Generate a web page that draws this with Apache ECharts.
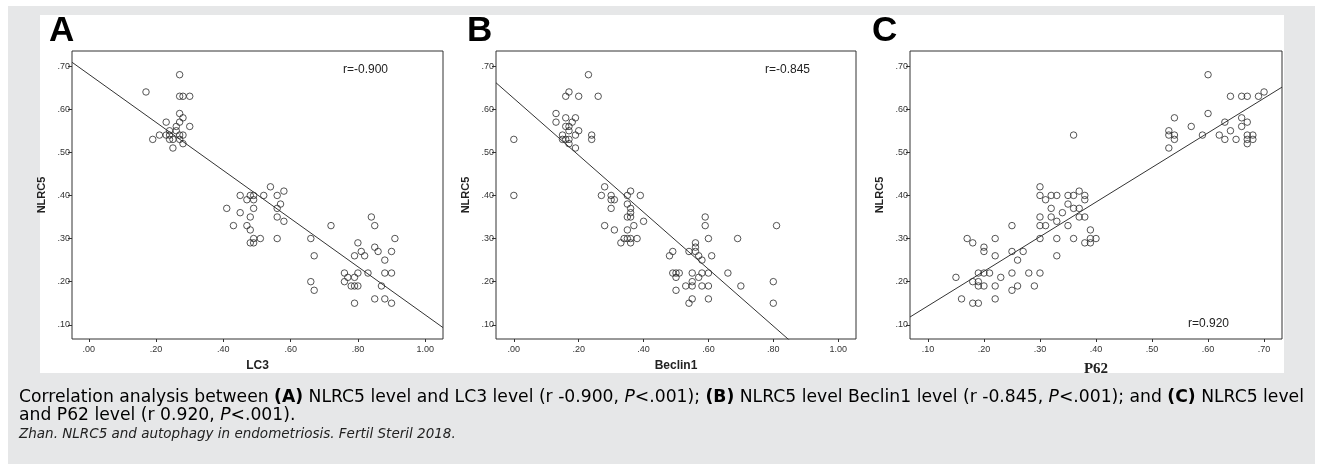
<!DOCTYPE html>
<html>
<head>
<meta charset="utf-8">
<script src="https://cdn.jsdelivr.net/npm/echarts@6/dist/echarts.min.js"></script>
<style>
  html, body { margin: 0; padding: 0; background: #fff; }
  #chart { width: 1320px; height: 464px; }
</style>
</head>
<body>
<div id="chart"></div>
<script>
// NLRC5 vs LC3 (panel A)
const lc3Points = [
  [0.17, 0.64], [0.27, 0.68], [0.27, 0.63], [0.28, 0.63], [0.30, 0.63], [0.27, 0.59], [0.28, 0.58],
  [0.27, 0.57], [0.23, 0.57], [0.30, 0.56], [0.26, 0.56], [0.24, 0.55], [0.26, 0.55], [0.23, 0.54],
  [0.24, 0.54], [0.27, 0.54], [0.28, 0.54], [0.21, 0.54], [0.19, 0.53], [0.24, 0.53], [0.25, 0.53],
  [0.27, 0.53], [0.25, 0.51], [0.28, 0.52],
  [0.54, 0.42], [0.45, 0.40], [0.48, 0.40], [0.49, 0.40], [0.52, 0.40], [0.56, 0.40], [0.58, 0.41],
  [0.47, 0.39], [0.49, 0.39], [0.41, 0.37], [0.49, 0.37], [0.57, 0.38], [0.56, 0.37], [0.45, 0.36],
  [0.48, 0.35], [0.56, 0.35], [0.58, 0.34], [0.43, 0.33], [0.47, 0.33], [0.48, 0.32], [0.49, 0.30],
  [0.51, 0.30], [0.56, 0.30], [0.48, 0.29], [0.49, 0.29], [0.66, 0.30], [0.72, 0.33], [0.67, 0.26],
  [0.66, 0.20], [0.67, 0.18],
  [0.84, 0.35], [0.85, 0.33], [0.91, 0.30], [0.80, 0.29], [0.85, 0.28], [0.86, 0.27], [0.81, 0.27],
  [0.90, 0.27], [0.79, 0.26], [0.82, 0.26], [0.88, 0.25], [0.76, 0.22], [0.80, 0.22], [0.83, 0.22],
  [0.88, 0.22], [0.90, 0.22], [0.77, 0.21], [0.79, 0.21], [0.76, 0.20], [0.78, 0.19], [0.79, 0.19],
  [0.80, 0.19], [0.87, 0.19], [0.85, 0.16], [0.88, 0.16], [0.79, 0.15], [0.90, 0.15]
];

// NLRC5 vs Beclin1 (panel B)
const beclinPoints = [
  [0.00, 0.53], [0.00, 0.40], [0.23, 0.68], [0.17, 0.64], [0.16, 0.63], [0.20, 0.63], [0.26, 0.63],
  [0.13, 0.59], [0.13, 0.57], [0.16, 0.58], [0.19, 0.58], [0.18, 0.57], [0.16, 0.56], [0.17, 0.56],
  [0.20, 0.55], [0.17, 0.55], [0.15, 0.54], [0.19, 0.54], [0.15, 0.53], [0.16, 0.53], [0.17, 0.53],
  [0.24, 0.54], [0.24, 0.53], [0.17, 0.52], [0.19, 0.51],
  [0.28, 0.42], [0.27, 0.40], [0.30, 0.40], [0.30, 0.39], [0.31, 0.39], [0.30, 0.37], [0.36, 0.41],
  [0.35, 0.40], [0.39, 0.40], [0.35, 0.38], [0.36, 0.37], [0.36, 0.36], [0.35, 0.35], [0.36, 0.35],
  [0.40, 0.34], [0.28, 0.33], [0.37, 0.33], [0.31, 0.32], [0.35, 0.32], [0.34, 0.30], [0.35, 0.30],
  [0.36, 0.30], [0.38, 0.30], [0.33, 0.29], [0.36, 0.29],
  [0.59, 0.35], [0.59, 0.33], [0.81, 0.33], [0.60, 0.30], [0.69, 0.30], [0.56, 0.29], [0.56, 0.28],
  [0.56, 0.27], [0.54, 0.27], [0.49, 0.27], [0.48, 0.26], [0.57, 0.26], [0.61, 0.26], [0.58, 0.25],
  [0.49, 0.22], [0.50, 0.22], [0.51, 0.22], [0.55, 0.22], [0.58, 0.22], [0.60, 0.22], [0.66, 0.22],
  [0.50, 0.21], [0.57, 0.21], [0.55, 0.20], [0.80, 0.20], [0.53, 0.19], [0.55, 0.19], [0.58, 0.19],
  [0.60, 0.19], [0.70, 0.19], [0.50, 0.18], [0.55, 0.16], [0.60, 0.16], [0.54, 0.15], [0.80, 0.15]
];

// NLRC5 vs P62 (panel C)
const p62Points = [
  [0.60, 0.68], [0.64, 0.63], [0.66, 0.63], [0.67, 0.63], [0.69, 0.63], [0.70, 0.64], [0.60, 0.59],
  [0.54, 0.58], [0.66, 0.58], [0.63, 0.57], [0.67, 0.57], [0.57, 0.56], [0.66, 0.56], [0.53, 0.55],
  [0.64, 0.55], [0.53, 0.54], [0.54, 0.54], [0.59, 0.54], [0.62, 0.54], [0.67, 0.54], [0.68, 0.54],
  [0.54, 0.53], [0.63, 0.53], [0.65, 0.53], [0.67, 0.53], [0.68, 0.53], [0.67, 0.52], [0.53, 0.51],
  [0.36, 0.54],
  [0.30, 0.42], [0.30, 0.40], [0.31, 0.39], [0.32, 0.40], [0.33, 0.40], [0.35, 0.40], [0.36, 0.40],
  [0.37, 0.41], [0.38, 0.40], [0.38, 0.39], [0.32, 0.37], [0.36, 0.37], [0.37, 0.37], [0.35, 0.38],
  [0.34, 0.36], [0.30, 0.35], [0.32, 0.35], [0.37, 0.35], [0.38, 0.35], [0.33, 0.34], [0.30, 0.33],
  [0.31, 0.33], [0.35, 0.33], [0.25, 0.33], [0.39, 0.32], [0.30, 0.30], [0.33, 0.30], [0.36, 0.30],
  [0.39, 0.30], [0.40, 0.30], [0.38, 0.29], [0.39, 0.29],
  [0.17, 0.30], [0.18, 0.29], [0.22, 0.30], [0.20, 0.28], [0.20, 0.27], [0.25, 0.27], [0.27, 0.27],
  [0.22, 0.26], [0.33, 0.26], [0.26, 0.25], [0.19, 0.22], [0.20, 0.22], [0.21, 0.22], [0.25, 0.22],
  [0.28, 0.22], [0.30, 0.22], [0.15, 0.21], [0.23, 0.21], [0.18, 0.20], [0.19, 0.20], [0.19, 0.19],
  [0.20, 0.19], [0.22, 0.19], [0.26, 0.19], [0.29, 0.19], [0.25, 0.18], [0.16, 0.16], [0.22, 0.16],
  [0.18, 0.15], [0.19, 0.15]
];

// fitted lines: [intercept, slope]
const lc3Fit = [0.681, -0.558];
const beclinFit = [0.625, -0.660];
const p62Fit = [0.0634, 0.803];

const ticksA = [0, 0.2, 0.4, 0.6, 0.8, 1.0];
const ticksC = [0.1, 0.2, 0.3, 0.4, 0.5, 0.6, 0.7];
const ticksY = [0.1, 0.2, 0.3, 0.4, 0.5, 0.6, 0.7];

const rLabels = ['r=-0.900', 'r=-0.845', 'r=0.920'];

const panels = [
  { letter: 'A', xName: 'LC3', pts: lc3Points, fit: lc3Fit, xMin: -0.05, xMax: 1.053, ticks: ticksA,
    grid: { left: 72, top: 51, width: 371, height: 288 }, r: [343, 64], lx: 49 },
  { letter: 'B', xName: 'Beclin1', pts: beclinPoints, fit: beclinFit, xMin: -0.055, xMax: 1.055, ticks: ticksA,
    grid: { left: 496, top: 51, width: 360, height: 288 }, r: [765, 64], lx: 467 },
  { letter: 'C', xName: 'P62', pts: p62Points, fit: p62Fit, xMin: 0.068, xMax: 0.732, ticks: ticksC,
    grid: { left: 910, top: 51, width: 372, height: 288 }, r: [1188, 318], lx: 872, serif: true }
];
const yMin = 0.067, yMax = 0.735;

const fmt = v => v.toFixed(2).replace(/^0\./, '.');
const font = 'Arial, "Liberation Sans", sans-serif';

const chart = echarts.init(document.getElementById('chart'));

const grids = [], xAxes = [], yAxes = [], series = [];
const graphic = [
  { type: 'rect', shape: { x: 8, y: 6, width: 1307, height: 470 }, style: { fill: '#e6e7e8' }, z: -10 },
  { type: 'rect', shape: { x: 40, y: 15, width: 1244, height: 358 }, style: { fill: '#fff' }, z: -9 }
];

panels.forEach((p, i) => {
  grids.push(Object.assign({ show: true, borderColor: '#333', borderWidth: 1, backgroundColor: '#fff' }, p.grid));
  xAxes.push({
    gridIndex: i, type: 'value', min: p.xMin, max: p.xMax,
    name: p.xName, nameLocation: 'middle', nameGap: p.serif ? 23 : 21,
    nameTextStyle: p.serif
      ? { fontFamily: '"Liberation Serif", "Times New Roman", serif', fontWeight: 'bold', fontSize: 15, color: '#222' }
      : { fontFamily: font, fontWeight: 'bold', fontSize: 12, color: '#222' },
    splitLine: { show: false },
    axisLine: { show: false, onZero: false },
    axisTick: { show: true, inside: false, length: 3, lineStyle: { color: '#333' }, customValues: p.ticks },
    axisLabel: { customValues: p.ticks, formatter: fmt, fontSize: 9, color: '#333', fontFamily: font, margin: 6 }
  });
  yAxes.push({
    gridIndex: i, type: 'value', min: yMin, max: yMax,
    name: 'NLRC5', nameLocation: 'middle', nameGap: 25,
    nameTextStyle: { fontFamily: font, fontWeight: 'bold', fontSize: 11, color: '#222' },
    splitLine: { show: false },
    axisLine: { show: false, onZero: false },
    axisTick: { show: true, inside: false, length: 4, lineStyle: { color: '#333' }, customValues: ticksY },
    axisLabel: { customValues: ticksY, formatter: fmt, fontSize: 9, color: '#333', fontFamily: font, margin: 2 }
  });
  series.push({
    type: 'scatter', xAxisIndex: i, yAxisIndex: i, data: p.pts,
    symbol: 'circle', symbolSize: 6.5,
    itemStyle: { color: 'rgba(255,255,255,0)', borderColor: '#2a2a2a', borderWidth: 1 },
    silent: true, z: 3
  });
  series.push({
    type: 'line', xAxisIndex: i, yAxisIndex: i, clip: true,
    data: [[p.xMin, p.fit[0] + p.fit[1] * p.xMin], [p.xMax, p.fit[0] + p.fit[1] * p.xMax]],
    symbol: 'none', lineStyle: { color: '#333', width: 1 }, silent: true, z: 2
  });
  graphic.push({
    type: 'text', left: p.lx, top: 14,
    style: { text: p.letter, font: 'bold 35px Arial, "Liberation Sans", sans-serif', fill: '#000' }
  });
  graphic.push({
    type: 'text', left: p.r[0], top: p.r[1],
    style: { text: rLabels[i], font: '12px Arial, "Liberation Sans", sans-serif', fill: '#222' }
  });
});

const capFont = '"DejaVu Sans", sans-serif';
const capRich = {
  n: { fontFamily: capFont, fontSize: 17.2, color: '#76777a' },
  b: { fontFamily: capFont, fontSize: 17.2, color: '#6f7072', fontWeight: 'bold' },
  i: { fontFamily: capFont, fontSize: 17.2, color: '#76777a', fontStyle: 'italic' }
};
graphic.push({
  type: 'text', left: 19, top: 389,
  style: {
    text: '{n|Correlation analysis between }{b|(A)}{n| NLRC5 level and LC3 level (r -0.900, }{i|P}{n|<.001); }' +
          '{b|(B)}{n| NLRC5 level Beclin1 level (r -0.845, }{i|P}{n|<.001); and }{b|(C)}{n| NLRC5 level}',
    rich: capRich
  }
});
graphic.push({
  type: 'text', left: 19, top: 407,
  style: { text: '{n|and P62 level (r 0.920, }{i|P}{n|<.001).}', rich: capRich }
});
graphic.push({
  type: 'text', left: 19, top: 427,
  style: { text: 'Zhan. NLRC5 and autophagy in endometriosis. Fertil Steril 2018.',
    font: 'italic 13.5px "DejaVu Sans", sans-serif', fill: '#222' }
});

chart.setOption({
  animation: false,
  backgroundColor: '#fff',
  grid: grids,
  xAxis: xAxes,
  yAxis: yAxes,
  series: series,
  graphic: graphic
});
</script>
</body>
</html>
